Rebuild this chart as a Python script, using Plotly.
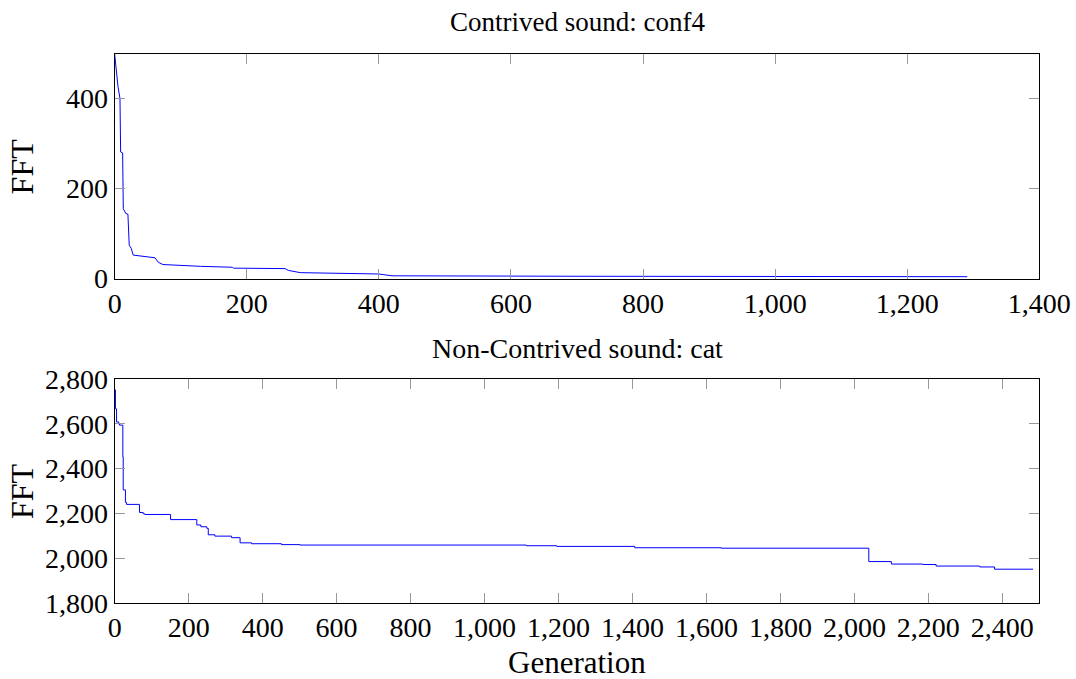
import plotly.graph_objects as go

# Top panel: Contrived sound conf4
top_gen = [0, 3, 5, 8, 9, 12, 13, 17, 20, 22, 25, 28, 46, 53, 61, 66, 73, 130, 178, 180, 258, 263, 270, 281, 400, 420, 700, 1291]
top_fft = [498, 444, 426, 400, 281, 279, 155, 144, 143, 74, 67, 52, 48, 47, 46, 36, 31, 27, 25, 23, 22, 18, 16, 13, 10, 6, 5, 4]

# Bottom panel: Non-contrived sound cat (step breakpoints)
bot_gen = [0, 2, 5, 11, 13, 22, 23, 29, 32, 67, 77, 81, 151, 222, 233, 249, 253, 271, 316, 339, 370, 451, 501,
           1113, 1195, 1406, 1640, 2039, 2100, 2185, 2221, 2339, 2379, 2483]
bot_fft = [2753, 2668, 2609, 2600, 2595, 2453, 2305, 2249, 2240, 2204, 2198, 2195, 2172, 2148, 2140, 2133, 2104, 2098,
           2091, 2068, 2064, 2060, 2058, 2055, 2052, 2046, 2044, 1984, 1973, 1971, 1964, 1960, 1950, 1950]

top_title = "Contrived sound: conf4"
bot_title = "Non-Contrived sound: cat"
x_label = "Generation"
y_label = "FFT"

FONT = "Liberation Serif"
FS = 28

fig = go.Figure()
fig.add_trace(go.Scatter(x=top_gen, y=top_fft, mode="lines", line=dict(color="rgb(0,0,255)", width=1),
                         xaxis="x", yaxis="y", showlegend=False))
fig.add_trace(go.Scatter(x=bot_gen, y=bot_fft, mode="lines", line=dict(color="rgb(0,0,255)", width=1, shape="hv"),
                         xaxis="x2", yaxis="y2", showlegend=False))

W, H = 1076, 679
xl, xr = 114.7, 1039.3
t_top, t_bot = 54.3, 278.5
b_top, b_bot = 379.3, 602.7

axis_common = dict(showline=True, linecolor="black", linewidth=1, mirror="allticks", ticks="inside",
                   ticklen=10, tickcolor="#999999", tickwidth=1, showgrid=False, zeroline=False, automargin=False,
                   tickfont=dict(family=FONT, size=FS, color="black"), tickformat=",d")

fig.update_layout(
    width=W, height=H, margin=dict(l=0, r=0, t=0, b=0),
    paper_bgcolor="white", plot_bgcolor="white",
    xaxis=dict(domain=[xl / W, xr / W], range=[0, 1400], dtick=200, tick0=0, anchor="y", **axis_common),
    yaxis=dict(domain=[1 - t_bot / H, 1 - t_top / H], range=[0, 498], dtick=200, tick0=0, anchor="x", **axis_common),
    xaxis2=dict(domain=[xl / W, xr / W], range=[0, 2500], dtick=200, tick0=0, anchor="y2", **axis_common),
    yaxis2=dict(domain=[1 - b_bot / H, 1 - b_top / H], range=[1800, 2800], dtick=200, tick0=0, anchor="x2", **axis_common),
    annotations=[
        dict(text=top_title, x=(xl + xr) / 2 / W, y=1 - 22 / H, xref="paper", yref="paper", showarrow=False,
             font=dict(family=FONT, size=27, color="black"), xanchor="center", yanchor="middle"),
        dict(text=bot_title, x=(xl + xr) / 2 / W, y=1 - 349 / H, xref="paper", yref="paper", showarrow=False,
             font=dict(family=FONT, size=28, color="black"), xanchor="center", yanchor="middle"),
        dict(text=x_label, x=(xl + xr) / 2 / W, y=1 - 662 / H, xref="paper", yref="paper", showarrow=False,
             font=dict(family=FONT, size=31, color="black"), xanchor="center", yanchor="middle"),
        dict(text=y_label, x=22 / W, y=1 - (t_top + t_bot) / 2 / H, xref="paper", yref="paper", showarrow=False,
             textangle=-90, font=dict(family=FONT, size=32, color="black"), xanchor="center", yanchor="middle"),
        dict(text=y_label, x=22 / W, y=1 - (b_top + b_bot) / 2 / H, xref="paper", yref="paper", showarrow=False,
             textangle=-90, font=dict(family=FONT, size=32, color="black"), xanchor="center", yanchor="middle"),
    ],
)

fig.write_html("out.html")
